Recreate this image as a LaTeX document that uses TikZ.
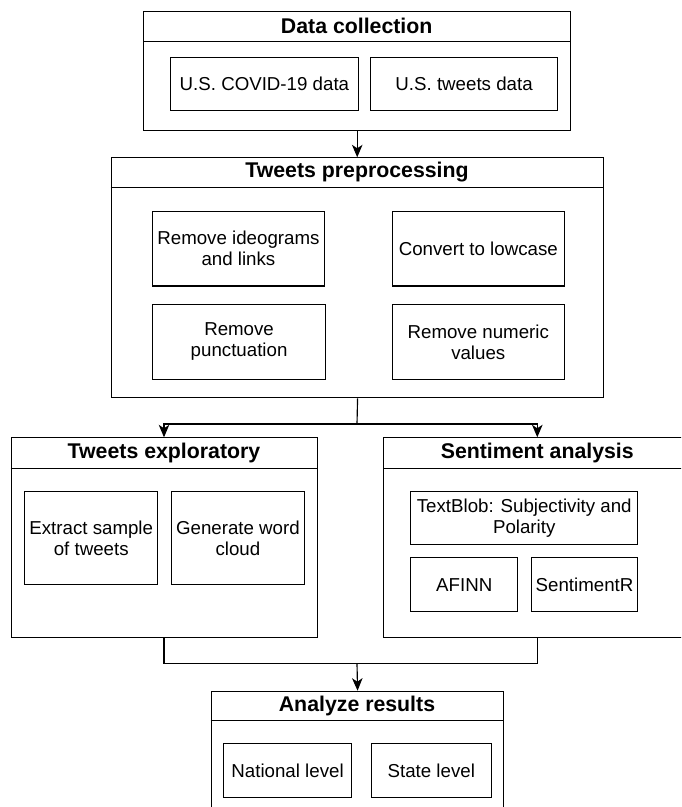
\documentclass[tikz,border=0pt]{standalone}
\usepackage{fontspec}
\setmainfont{Liberation Sans}
\usetikzlibrary{arrows.meta}
\begin{document}
\begin{tikzpicture}[x=1pt,y=-1pt,
  lw/.style={line width=1.15pt, draw=black},
  container/.style={lw, rectangle, inner sep=0pt, anchor=north west},
  titletext/.style={font=\fontsize{21.3}{25}\selectfont\bfseries, inner sep=0pt},
  item/.style={lw, rectangle, inner sep=0pt, align=center, anchor=north west,
    font=\fontsize{18.7}{21}\selectfont},
  arr/.style={lw, -{Stealth[length=12.5pt,width=10.5pt,inset=3.5pt]}},
  conn/.style={lw}
]
\useasboundingbox (0,0) rectangle (681,807);
\clip (0,0) rectangle (681,807);

% Data collection
\node[container, minimum width=426.7pt, minimum height=119.3pt] (dc) at (143.3,10.7) {};
\draw[lw] (143.3,41.7) -- (570,41.7);
\node[titletext] (dct) at (356.7,26.2) {Data collection};
\node[item, minimum width=187.7pt, minimum height=52.7pt] (covid) at (170,57.3) {U.S. COVID-19 data};
\node[item, minimum width=187pt, minimum height=52.7pt] (tw) at (370,57.3) {U.S. tweets data};

% Tweets preprocessing
\node[container, minimum width=492.6pt, minimum height=240pt] (pre) at (110.7,157.3) {};
\draw[lw] (110.7,187.7) -- (603.3,187.7);
\node[titletext] (pret) at (357,172.5) {Tweets preprocessing};
\node[item, minimum width=172.3pt, minimum height=74.7pt] (ideo) at (151.7,210.7) {Remove ideograms\\and links};
\node[item, minimum width=172pt, minimum height=74.7pt] (low) at (391.7,210.7) {Convert to lowcase};
\node[item, minimum width=173.6pt, minimum height=74.7pt] (punc) at (151.7,304) {Remove\\punctuation};
\node[item, minimum width=172pt, minimum height=74.7pt] (num) at (391.7,304) {Remove numeric\\values};

% Tweets exploratory
\node[container, minimum width=306.6pt, minimum height=200pt] (ex) at (10.7,437.3) {};
\draw[lw] (10.7,468.3) -- (317.3,468.3);
\node[titletext] (ext) at (164,452.8) {Tweets exploratory};
\node[item, minimum width=133.3pt, minimum height=93.3pt] (extr) at (24,490.7) {Extract sample\\of tweets};
\node[item, minimum width=133.3pt, minimum height=93.3pt] (gen) at (170.7,490.7) {Generate word\\cloud};

% Sentiment analysis
\node[container, minimum width=308pt, minimum height=200pt] (sa) at (383.3,437.3) {};
\draw[lw] (383.3,468.3) -- (691.3,468.3);
\node[titletext] (sat) at (537.3,452.8) {Sentiment analysis};
\node[item, minimum width=227.3pt, minimum height=53.3pt] (tb) at (410,490.7) {TextBlob: Subjectivity and\\Polarity};
\node[item, minimum width=107.3pt, minimum height=53.4pt] (af) at (410,557.3) {AFINN};
\node[item, minimum width=106.6pt, minimum height=53.4pt] (sr) at (530.7,557.3) {SentimentR};

% Analyze results
\node[container, minimum width=292.6pt, minimum height=140pt] (ar) at (210.7,690.7) {};
\draw[lw] (210.7,720.7) -- (503.3,720.7);
\node[titletext] (art) at (357,705.7) {Analyze results};
\node[item, minimum width=127.4pt, minimum height=53.4pt] (nat) at (223.3,743.3) {National level};
\node[item, minimum width=120pt, minimum height=53.4pt] (st) at (370.7,743.3) {State level};

% Connectors
\draw[arr] (dc.south) -- (dc.south |- pre.north);
\coordinate (j1) at (357,424);
\draw[conn] (pre.south) -- (j1);
\draw[arr] (j1) -| (ext |- ex.north);
\draw[arr] (j1) -| (sat |- sa.north);
\coordinate (j2) at (357,663.3);
\coordinate (b1) at (164,663.3);
\coordinate (b2) at (537.3,663.3);
\draw[conn] (ext |- ex.south) -- (b1) -- (b2) -- (sat |- sa.south);
\draw[arr] (j2) -- (ar.north);
\end{tikzpicture}
\end{document}
